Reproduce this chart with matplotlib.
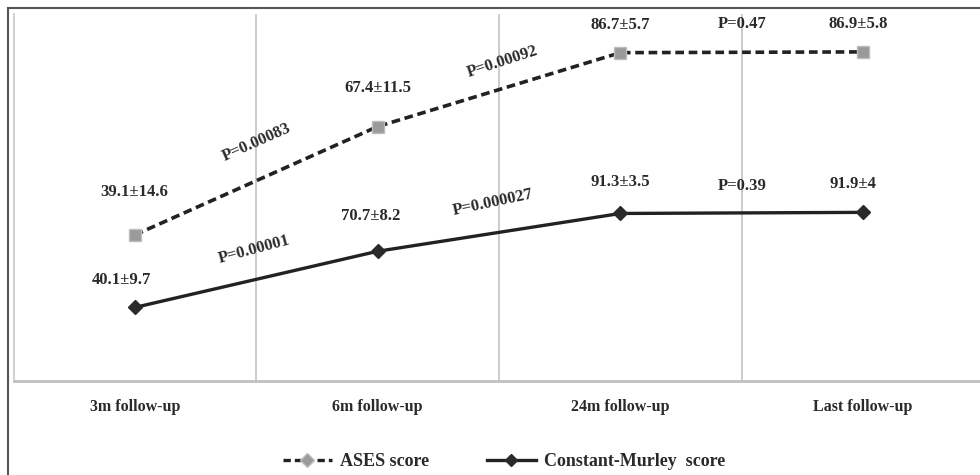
import numpy as np
import matplotlib.pyplot as plt
from matplotlib.lines import Line2D
from matplotlib.patches import Rectangle

# data
stages = ['3m follow-up', '6m follow-up', '24m follow-up', 'Last follow-up']
ases = [39.1, 67.4, 86.7, 86.9]
ases_sd = ['14.6', '11.5', '5.7', '5.8']
cms = [40.1, 70.7, 91.3, 91.9]
cms_sd = ['9.7', '8.2', '3.5', '4']
ases_p = ['P=0.00083', 'P=0.00092', 'P=0.47']
cms_p = ['P=0.00001', 'P=0.000027', 'P=0.39']

plt.rcParams['font.family'] = ['Liberation Serif', 'DejaVu Serif']
plt.rcParams['font.weight'] = 'bold'
txt = '#2a2a2a'
line_c = '#222222'
fs = 12

W, H = 980, 475
fig = plt.figure(figsize=(W / 100, H / 100), dpi=100)
ax = fig.add_axes([13.5 / W, 1 - 381 / H, 971 / W, 367 / H])
ax2 = ax.twinx()

x = np.arange(len(stages))
ax.set_xlim(-0.5, 3.5)
ax.set_ylim(0, 200)
ax2.set_ylim(0.94, 96.8)

# constant-murley on the primary axis
ax.plot(x, cms, color=line_c, lw=2.4, marker='D', ms=7,
        mfc='#2a2a2a', mec='#2a2a2a', zorder=3)
# ases on the secondary axis
ax2.plot(x, ases, color=line_c, lw=2.6, ls=(0, (2.4, 1.3)), marker='s', ms=8,
         mfc='#9a9a9a', mec='#bdbdbd', mew=1, zorder=3)

ax.set_xticks(x)
ax.set_xticklabels(stages, fontsize=11.5, fontweight='bold', color=txt)
ax.tick_params(axis='x', length=0, pad=13)
ax.set_yticks([])
ax2.set_yticks([])
ax.set_xticks([0.5, 1.5, 2.5], minor=True)
ax.tick_params(axis='x', which='minor', length=0)
ax.grid(which='minor', axis='x', color='#c4c4c4', lw=1.2)

for s in ['top', 'right']:
    ax.spines[s].set_visible(False)
for s in ax2.spines.values():
    s.set_visible(False)
ax.spines['left'].set_color('#c8c8c8')
ax.spines['left'].set_linewidth(1.2)
ax.spines['bottom'].set_color('#c0c0c0')
ax.spines['bottom'].set_linewidth(2)

# value labels, offsets in pixels from their points
ases_off = [(-1, 43), (0, 39), (0, 28), (-5, 28)]
cms_off = [(-13, 27), (-7, 35), (0, 31), (-10, 28)]
for i in range(4):
    ax2.annotate(f'{ases[i]}±{ases_sd[i]}', (x[i], ases[i]), xytext=ases_off[i],
                 textcoords='offset pixels', ha='center', va='center',
                 fontsize=fs, fontweight='bold', color=txt)
    ax.annotate(f'{cms[i]}±{cms_sd[i]}', (x[i], cms[i]), xytext=cms_off[i],
                textcoords='offset pixels', ha='center', va='center',
                fontsize=fs, fontweight='bold', color=txt)

# p-values between neighbouring visits
ases_poff = [(0, 38), (4, 28), (0, 28)]
ases_rot = [24, 18, 0]
cms_poff = [(-2, 30), (-6, 30), (0, 27)]
cms_rot = [15, 12, 0]
for i in range(3):
    ax2.annotate(ases_p[i], (x[i] + 0.5, (ases[i] + ases[i + 1]) / 2),
                 xytext=ases_poff[i], textcoords='offset pixels',
                 ha='center', va='center', rotation=ases_rot[i],
                 rotation_mode='anchor', fontsize=fs, fontweight='bold', color=txt)
    ax.annotate(cms_p[i], (x[i] + 0.5, (cms[i] + cms[i + 1]) / 2),
                xytext=cms_poff[i], textcoords='offset pixels',
                ha='center', va='center', rotation=cms_rot[i],
                rotation_mode='anchor', fontsize=fs, fontweight='bold', color=txt)

handles = [
    Line2D([], [], color=line_c, lw=2.4, ls=(0, (2.2, 1.2)), marker='D', ms=7,
           mfc='#9a9a9a', mec='#bdbdbd'),
    Line2D([], [], color=line_c, lw=2.4, marker='D', ms=6, mfc='#2a2a2a', mec='#2a2a2a'),
]
leg = fig.legend(handles, ['ASES score', 'Constant-Murley  score'], ncol=2,
                 loc='center', bbox_to_anchor=(504 / W, 1 - 462 / H),
                 frameon=False, fontsize=13, handlelength=2.7,
                 handletextpad=0.45, columnspacing=3.2)
for t in leg.get_texts():
    t.set_color(txt)
    t.set_fontweight('bold')

# outer frame (cropped on right and bottom)
fig.patches.append(Rectangle((8 / W, -0.1), 1.2, 1.1 - 8 / H, transform=fig.transFigure,
                             fill=False, edgecolor='#555555', lw=1.5))

fig.savefig('out.png', dpi=100)
